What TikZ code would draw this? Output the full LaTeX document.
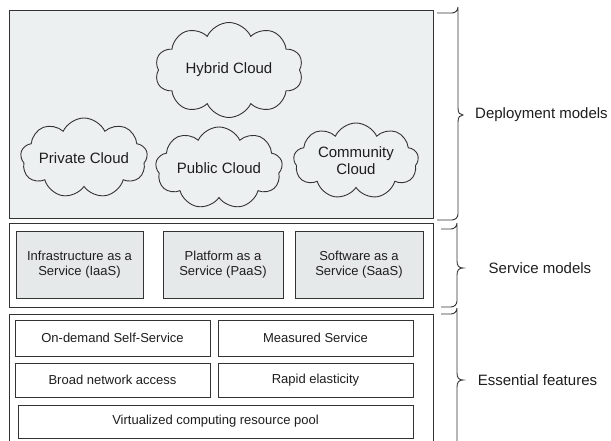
\documentclass[tikz,border=0pt]{standalone}
\usepackage{fontspec}
\setmainfont{Liberation Sans}
\usetikzlibrary{shapes.symbols}
\definecolor{inkline}{HTML}{333333}
\definecolor{inktext}{HTML}{1E1E1E}
\definecolor{panelgrey}{HTML}{EDF0F0}
\definecolor{modelgrey}{HTML}{E6E9E9}
\tikzset{
  frame/.style={draw=inkline, line width=0.9pt, rectangle, inner sep=0pt},
  cloudnode/.style={cloud, cloud ignores aspect, draw=inkline, line width=0.9pt, fill=panelgrey,
    cloud puffs=10, cloud puff arc=130, text=inktext, align=center, inner sep=0pt,
    font=\fontsize{15}{17}\selectfont},
  modelbox/.style={frame, fill=modelgrey, text=inktext, align=center,
    font=\fontsize{13}{15.5}\selectfont},
  featbox/.style={frame, fill=white, text=inktext, align=center,
    font=\fontsize{13}{15.5}\selectfont},
  bracepath/.style={draw=inkline, line width=0.9pt},
  sidelabel/.style={text=inktext, font=\fontsize{15}{17}\selectfont, inner sep=0pt}
}
\begin{document}
\begin{tikzpicture}[x=1pt, y=-1pt]
\useasboundingbox (0,0) rectangle (611,441);
\fill[white] (0,0) rectangle (611,441);

% deployment panel with its clouds
\node[frame, fill=panelgrey, minimum width=424pt, minimum height=208pt] (deploy) at (221,114) {};
\node[cloudnode, minimum width=148pt, minimum height=95pt] (hybrid) at (229,70) {Hybrid Cloud};
\node[cloudnode, cloud puffs=9, minimum width=127pt, minimum height=80pt] (private) at (84,158) {Private Cloud};
\node[cloudnode, cloud puffs=9, minimum width=127pt, minimum height=82pt] (public) at (219,168) {Public Cloud};
\node[cloudnode, cloud puffs=9, minimum width=125pt, minimum height=76pt] (community) at (356,161) {Community\\Cloud};

% service models
\node[frame, fill=white, minimum width=424pt, minimum height=84pt] (service) at (221,265) {};
\node[modelbox, minimum width=127pt, minimum height=67pt] (iaas) at (79.5,264.5) {Infrastructure as a\\Service (IaaS)};
\node[modelbox, minimum width=120pt, minimum height=67pt] (paas) at (223,264.5) {Platform as a\\Service (PaaS)};
\node[modelbox, minimum width=128pt, minimum height=67pt] (saas) at (359,264.5) {Software as a\\Service (SaaS)};

% essential features
\node[frame, fill=white, minimum width=424pt, minimum height=128pt] (essential) at (221,378) {};
\node[featbox, minimum width=195pt, minimum height=36pt] (ondemand) at (112.5,338) {On-demand Self-Service};
\node[featbox, minimum width=195pt, minimum height=36pt] (measured) at (315.5,338) {Measured Service};
\node[featbox, minimum width=195pt, minimum height=34pt] (broad) at (112.5,380) {Broad network access};
\node[featbox, minimum width=195pt, minimum height=34pt] (rapid) at (315.5,380) {Rapid elasticity};
\node[featbox, minimum width=395pt, minimum height=33pt] (pool) at (215.5,421.5) {Virtualized computing resource pool};

% braces and their labels
\coordinate (dtip) at (463,115);
\coordinate (stip) at (463,268);
\coordinate (etip) at (463,380);
\draw[bracepath] (437,13) -- (452,13) arc[start angle=90, end angle=0, radius=6]
  -- (458,108) .. controls (458,113) and (460,115) .. (dtip)
  .. controls (460,115) and (458,117) .. (458,122)
  -- (458,214) arc[start angle=0, end angle=90, radius=6] -- (437,220);
\draw[bracepath] (441,229) -- (451,229) arc[start angle=90, end angle=0, radius=6]
  -- (457,261) .. controls (457,266) and (459,268) .. (stip)
  .. controls (459,268) and (457,270) .. (457,275)
  -- (457,301) arc[start angle=0, end angle=90, radius=6] -- (441,307);
\draw[bracepath] (441,314) -- (451,314) arc[start angle=90, end angle=0, radius=6]
  -- (457,373) .. controls (457,378) and (459,380) .. (etip)
  .. controls (459,380) and (457,382) .. (457,387)
  -- (457,445);
\node[sidelabel, anchor=west] (deplabel) at (475,115) {Deployment models};
\node[sidelabel] (servlabel) at (540,268) {Service models};
\node[sidelabel] (esslabel) at (537.5,380) {Essential features};
\end{tikzpicture}
\end{document}
